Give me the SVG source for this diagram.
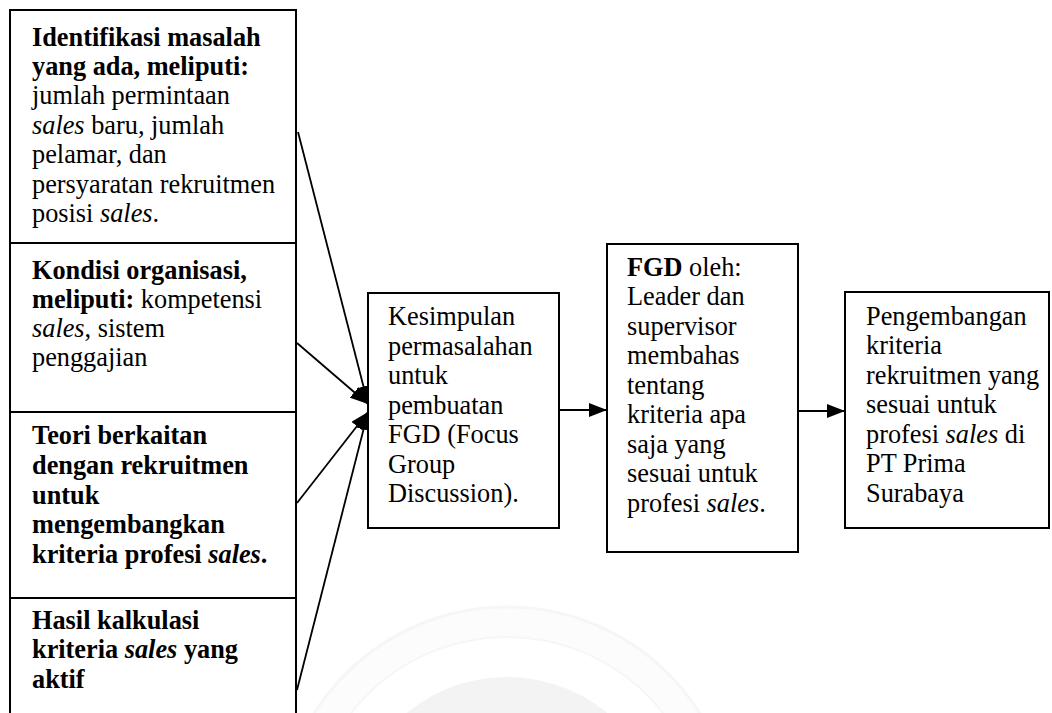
<svg xmlns="http://www.w3.org/2000/svg" width="1052" height="713" viewBox="0 0 1052 713">
  <style>
    .box { fill: #ffffff; stroke: #000000; stroke-width: 2; }
    .t { font-family: 'Liberation Serif', 'Times New Roman', serif; font-size: 26.3px; fill: #000000; }
    .b { font-weight: bold; }
    .i { font-style: italic; }
    .link { stroke: #000000; stroke-width: 1.8; fill: none; marker-end: url(#head); }
  </style>
  <defs>
    <marker id="head" viewBox="0 0 18 14" refX="18" refY="7" markerWidth="18" markerHeight="14" markerUnits="userSpaceOnUse" orient="auto">
      <path d="M0,0 L18,7 L0,14 Z" fill="#000000"/>
    </marker>
  </defs>

  <rect width="1052" height="713" fill="#ffffff"/>

  <!-- faint background seal -->
  <g id="seal">
    <circle cx="507" cy="835" r="228" fill="#fcfcfc" stroke="#f6f6f6" stroke-width="3"/>
    <circle cx="507" cy="835" r="198" fill="#ffffff" stroke="#f6f6f6" stroke-width="2"/>
    <circle cx="507" cy="835" r="158" fill="#f3f3f3"/>
  </g>

  <!-- connectors -->
  <g id="connectors">
    <line class="link" x1="298" y1="132" x2="368" y2="404"/>
    <line class="link" x1="297" y1="343" x2="368" y2="404"/>
    <line class="link" x1="297" y1="503" x2="368" y2="412"/>
    <line class="link" x1="297" y1="690" x2="368" y2="412"/>
    <line class="link" x1="559" y1="410" x2="607" y2="410"/>
    <line class="link" x1="798" y1="411" x2="845" y2="411"/>
  </g>

  <!-- input column -->
  <g id="identifikasi">
    <rect class="box" x="10" y="10" width="286" height="233"/>
    <text class="t">
      <tspan class="b" x="32" y="46">Identifikasi masalah</tspan>
      <tspan class="b" x="32" y="75">yang ada, meliputi:</tspan>
      <tspan x="32" y="104">jumlah permintaan</tspan>
      <tspan x="32" y="134"><tspan class="i">sales</tspan> baru, jumlah</tspan>
      <tspan x="32" y="163">pelamar, dan</tspan>
      <tspan x="32" y="193">persyaratan rekruitmen</tspan>
      <tspan x="32" y="222">posisi <tspan class="i">sales</tspan>.</tspan>
    </text>
  </g>

  <g id="kondisi">
    <rect class="box" x="10" y="243" width="286" height="169"/>
    <text class="t">
      <tspan class="b" x="32" y="279">Kondisi organisasi,</tspan>
      <tspan x="32" y="308"><tspan class="b">meliputi:</tspan> kompetensi</tspan>
      <tspan x="32" y="337"><tspan class="i">sales</tspan>, sistem</tspan>
      <tspan x="32" y="366">penggajian</tspan>
    </text>
  </g>

  <g id="teori">
    <rect class="box" x="10" y="412" width="286" height="186"/>
    <text class="t b">
      <tspan x="32" y="444">Teori berkaitan</tspan>
      <tspan x="32" y="474">dengan rekruitmen</tspan>
      <tspan x="32" y="504">untuk</tspan>
      <tspan x="32" y="533">mengembangkan</tspan>
      <tspan x="32" y="563">kriteria profesi <tspan class="i">sales</tspan>.</tspan>
    </text>
  </g>

  <g id="hasil">
    <path class="box" d="M10,720 L10,598 L296,598 L296,720"/>
    <text class="t b">
      <tspan x="32" y="629">Hasil kalkulasi</tspan>
      <tspan x="32" y="658">kriteria <tspan class="i">sales</tspan> yang</tspan>
      <tspan x="32" y="688">aktif</tspan>
    </text>
  </g>

  <!-- process chain -->
  <g id="kesimpulan">
    <rect class="box" x="368" y="293" width="191" height="235"/>
    <text class="t">
      <tspan x="388" y="325">Kesimpulan</tspan>
      <tspan x="388" y="355">permasalahan</tspan>
      <tspan x="388" y="384">untuk</tspan>
      <tspan x="388" y="414">pembuatan</tspan>
      <tspan x="388" y="443">FGD (Focus</tspan>
      <tspan x="388" y="473">Group</tspan>
      <tspan x="388" y="502">Discussion).</tspan>
    </text>
  </g>

  <g id="fgd">
    <rect class="box" x="607" y="244" width="191" height="308"/>
    <text class="t">
      <tspan x="627" y="276"><tspan class="b">FGD</tspan> oleh:</tspan>
      <tspan x="627" y="305">Leader dan</tspan>
      <tspan x="627" y="335">supervisor</tspan>
      <tspan x="627" y="364">membahas</tspan>
      <tspan x="627" y="394">tentang</tspan>
      <tspan x="627" y="423">kriteria apa</tspan>
      <tspan x="627" y="453">saja yang</tspan>
      <tspan x="627" y="482">sesuai untuk</tspan>
      <tspan x="627" y="512">profesi <tspan class="i">sales</tspan>.</tspan>
    </text>
  </g>

  <g id="pengembangan">
    <rect class="box" x="845" y="292" width="204" height="236"/>
    <text class="t">
      <tspan x="866" y="325">Pengembangan</tspan>
      <tspan x="866" y="354">kriteria</tspan>
      <tspan x="866" y="384">rekruitmen yang</tspan>
      <tspan x="866" y="413">sesuai untuk</tspan>
      <tspan x="866" y="443">profesi <tspan class="i">sales</tspan> di</tspan>
      <tspan x="866" y="472">PT Prima</tspan>
      <tspan x="866" y="502">Surabaya</tspan>
    </text>
  </g>
</svg>
